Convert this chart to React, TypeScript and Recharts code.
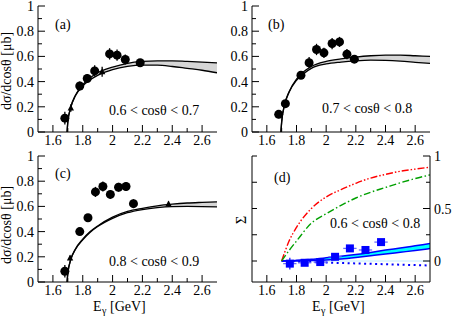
import React from 'react';
import { ComposedChart, Line, Area, Scatter, ErrorBar, XAxis, YAxis, ReferenceLine } from 'recharts';

const FONT = "'Liberation Serif', 'DejaVu Serif', 'Times New Roman', serif";

// axis ticks
const xTicks = [1.6, 1.7, 1.8, 1.9, 2, 2.1, 2.2, 2.3, 2.4, 2.5, 2.6];
const xLabels = [1.6, 1.8, 2, 2.2, 2.4, 2.6];
const yTicks = [0, 0.1, 0.2, 0.3, 0.4, 0.5, 0.6, 0.7, 0.8, 0.9, 1];
const yLabels = [0, 0.2, 0.4, 0.6, 0.8, 1];
const sigmaTicks = [0, 0.25, 0.5, 0.75, 1];
const sigmaLabels = [0, 0.5, 1];

// model curves (upper / lower edge of band)
const curveE = [1.695, 1.7, 1.72, 1.75, 1.8, 1.85, 1.9, 2, 2.1, 2.2, 2.3, 2.4, 2.5, 2.6, 2.7];
const aUpper = [0, 0.08, 0.2, 0.29, 0.375, 0.43, 0.47, 0.515, 0.545, 0.56, 0.565, 0.565, 0.56, 0.555, 0.549];
const aLower = [0, 0.08, 0.195, 0.285, 0.365, 0.415, 0.45, 0.495, 0.52, 0.53, 0.53, 0.52, 0.505, 0.49, 0.47];
const bUpper = [0, 0.08, 0.22, 0.32, 0.42, 0.48, 0.52, 0.56, 0.58, 0.595, 0.605, 0.61, 0.61, 0.605, 0.6];
const bLower = [0, 0.08, 0.215, 0.315, 0.41, 0.465, 0.505, 0.54, 0.555, 0.565, 0.57, 0.568, 0.562, 0.553, 0.544];
const cUpper = [0, 0.07, 0.18, 0.26, 0.34, 0.4, 0.445, 0.515, 0.56, 0.585, 0.605, 0.618, 0.627, 0.632, 0.636];
const cLower = [0, 0.07, 0.178, 0.257, 0.335, 0.395, 0.44, 0.505, 0.55, 0.575, 0.59, 0.598, 0.6, 0.599, 0.597];

// measured cross sections
const aE = [1.68, 1.78, 1.83, 1.88, 1.98, 2.03, 2.085, 2.185];
const aVal = [0.11, 0.365, 0.425, 0.485, 0.62, 0.61, 0.575, 0.55];
const aErr = [0.05, 0.035, 0.035, 0.045, 0.045, 0.045, 0.04, 0.03];
const aSmallE = [1.72, 1.93];
const aSmallVal = [0.19, 0.478];
const aSmallErr = [0.03, 0.04];

const bE = [1.68, 1.725, 1.83, 1.885, 1.935, 1.985, 2.04, 2.09, 2.14, 2.19];
const bVal = [0.14, 0.225, 0.45, 0.55, 0.655, 0.628, 0.702, 0.715, 0.618, 0.578];
const bErr = [0.03, 0.025, 0.03, 0.045, 0.045, 0.04, 0.045, 0.04, 0.04, 0.03];

const cE = [1.68, 1.78, 1.835, 1.885, 1.935, 1.985, 2.04, 2.09, 2.14];
const cVal = [0.085, 0.4, 0.51, 0.715, 0.758, 0.695, 0.752, 0.758, 0.622];
const cErr = [0.05, 0.025, 0.03, 0.04, 0.04, 0.035, 0.035, 0.035, 0.035];
const cSmallE = [1.715, 2.375];
const cSmallVal = [0.19, 0.62];
const cSmallErr = [0.02, 0.02];

// beam asymmetry panel
const sigmaE = [1.7, 1.75, 1.8, 1.9, 2, 2.1, 2.2, 2.3, 2.4, 2.5, 2.6, 2.7];
const sigmaRed = [0, 0.19, 0.32, 0.5, 0.61, 0.68, 0.74, 0.79, 0.825, 0.855, 0.875, 0.893];
const sigmaGreen = [0, 0.1, 0.19, 0.36, 0.45, 0.53, 0.6, 0.655, 0.7, 0.745, 0.785, 0.82];
const sigmaBandHi = [0, 0.002, 0.006, 0.016, 0.03, 0.045, 0.062, 0.082, 0.104, 0.124, 0.145, 0.166];
const sigmaBandLo = [0, 0, 0, 0.005, 0.01, 0.02, 0.034, 0.05, 0.066, 0.083, 0.1, 0.118];
const sigmaDotted = [0, -0.002, -0.004, -0.01, -0.015, -0.019, -0.023, -0.027, -0.031, -0.035, -0.039, -0.043];

const dE = [1.755, 1.855, 1.96, 2.06, 2.16, 2.265, 2.37];
const dVal = [-0.025, -0.017, -0.01, 0.04, 0.12, 0.105, 0.18];
const dErr = [0.055, 0.025, 0.02, 0.015, 0.02, 0.02, 0.02];
const dXErr = [0.045, 0.045, 0.045, 0.045, 0.045, 0.045, 0.045];

const band = (xs: number[], hi: number[], lo: number[]) => xs.map((x, i) => ({ x, hi: hi[i], lo: lo[i] }));
const points = (xs: number[], ys: number[], errs: number[], xerrs?: number[]) =>
  xs.map((x, i) => ({ x, y: ys[i], err: errs[i], xerr: xerrs ? xerrs[i] : 0 }));

const isIn = (v: number, list: number[]) => list.some((l) => Math.abs(l - v) < 1e-6);

const textStyle = { fontSize: 14, fontFamily: FONT, fill: '#000' };

const makeXTick = (side: 'bottom' | 'top', labels: boolean) => (p: any) => {
  const major = isIn(p.payload.value, xLabels);
  const len = major ? 7 : 4;
  const dir = side === 'bottom' ? -1 : 1;
  return (
    <g>
      <line x1={p.x} y1={p.y} x2={p.x} y2={p.y + dir * len} stroke="#000" strokeWidth={1} />
      {labels && major && (
        <text x={p.x} y={p.y + 13} textAnchor="middle" style={textStyle}>
          {String(p.payload.value)}
        </text>
      )}
    </g>
  );
};

const makeYTick = (side: 'left' | 'right', majors: number[], labels: boolean, minorLen = 4) => (p: any) => {
  const major = isIn(p.payload.value, majors);
  const len = major ? 7 : minorLen;
  const dir = side === 'left' ? 1 : -1;
  return (
    <g>
      <line x1={p.x} y1={p.y} x2={p.x + dir * len} y2={p.y} stroke="#000" strokeWidth={1} />
      {labels && major && (
        <text
          x={side === 'left' ? p.x - 4 : p.x + 4}
          y={p.y + 5}
          textAnchor={side === 'left' ? 'end' : 'start'}
          style={textStyle}
        >
          {String(p.payload.value)}
        </text>
      )}
    </g>
  );
};

const Dot = (p: any) => <circle cx={p.cx} cy={p.cy} r={4.5} fill="#000" />;
const Tri = (p: any) => (
  <polygon
    points={`${p.cx},${p.cy - 3.5} ${p.cx - 3.2},${p.cy + 2.5} ${p.cx + 3.2},${p.cy + 2.5}`}
    fill="#000"
  />
);
const Square = (p: any) => <rect x={p.cx - 4} y={p.cy - 4} width={8} height={8} fill="#0000ff" />;

const axisLine = { stroke: '#000', strokeWidth: 1 };

interface PanelProps {
  left: number;
  top: number;
  height: number;
  yWidth: number;
  rightMargin: number;
  xAxisH: number;
  curve: { x: number; hi: number; lo: number }[];
  big: { x: number; y: number; err: number }[];
  small?: { x: number; y: number; err: number }[];
}

const CrossPanel = ({ left, top, height, yWidth, rightMargin, xAxisH, curve, big, small }: PanelProps) => (
  <div style={{ position: 'absolute', left, top }}>
    <ComposedChart width={226} height={height} margin={{ top: 6, right: rightMargin, bottom: 0, left: 0 }}>
      <XAxis
        xAxisId={0}
        dataKey="x"
        type="number"
        domain={[1.5, 2.7]}
        allowDataOverflow
        ticks={xTicks}
        interval={0}
        height={xAxisH}
        tickSize={0}
        tickMargin={0}
        tickLine={false}
        axisLine={axisLine}
        tick={makeXTick('bottom', true)}
      />
      <XAxis
        xAxisId="top"
        orientation="top"
        dataKey="x"
        type="number"
        domain={[1.5, 2.7]}
        allowDataOverflow
        ticks={xTicks}
        interval={0}
        height={0}
        tickSize={0}
        tickMargin={0}
        tickLine={false}
        axisLine={axisLine}
        tick={makeXTick('top', false)}
      />
      <YAxis
        yAxisId={0}
        dataKey="y"
        type="number"
        domain={[0, 1]}
        allowDataOverflow
        ticks={yTicks}
        interval={0}
        width={yWidth}
        tickSize={0}
        tickMargin={0}
        tickLine={false}
        axisLine={axisLine}
        tick={makeYTick('left', yLabels, true)}
      />
      <YAxis
        yAxisId="right"
        orientation="right"
        type="number"
        domain={[0, 1]}
        allowDataOverflow
        ticks={yTicks}
        interval={0}
        width={0}
        tickSize={0}
        tickMargin={0}
        tickLine={false}
        axisLine={axisLine}
        tick={makeYTick('right', yLabels, false)}
      />
      <Area
        data={curve}
        dataKey={(d: any) => [d.lo, d.hi]}
        type="monotone"
        fill="#d6d6d6"
        fillOpacity={1}
        stroke="none"
        isAnimationActive={false}
      />
      <Line data={curve} dataKey="hi" type="monotone" stroke="#000" strokeWidth={1.3} dot={false} isAnimationActive={false} />
      <Line data={curve} dataKey="lo" type="monotone" stroke="#000" strokeWidth={1.3} dot={false} isAnimationActive={false} />
      {small && (
        <Scatter data={small} dataKey="y" shape={Tri} isAnimationActive={false}>
          <ErrorBar dataKey="err" direction="y" width={0} stroke="#000" strokeWidth={1.3} />
        </Scatter>
      )}
      <Scatter data={big} dataKey="y" shape={Dot} isAnimationActive={false}>
        <ErrorBar dataKey="err" direction="y" width={0} stroke="#000" strokeWidth={1.3} />
      </Scatter>
    </ComposedChart>
  </div>
);

const SigmaPanel = () => {
  const lines = sigmaE.map((x, i) => ({
    x,
    red: sigmaRed[i],
    green: sigmaGreen[i],
    hi: sigmaBandHi[i],
    lo: sigmaBandLo[i],
    dot: sigmaDotted[i],
  }));
  const data = points(dE, dVal, dErr, dXErr);
  return (
    <div style={{ position: 'absolute', left: 226, top: 150 }}>
      <ComposedChart width={226} height={168} margin={{ top: 6, right: 0, bottom: 0, left: 0 }}>
        <XAxis
          xAxisId={0}
          dataKey="x"
          type="number"
          domain={[1.5, 2.7]}
          allowDataOverflow
          ticks={xTicks}
          interval={0}
          height={36}
          tickSize={0}
          tickMargin={0}
          tickLine={false}
          axisLine={axisLine}
          tick={makeXTick('bottom', true)}
        />
        <XAxis
          xAxisId="top"
          orientation="top"
          dataKey="x"
          type="number"
          domain={[1.5, 2.7]}
          allowDataOverflow
          ticks={xTicks}
          interval={0}
          height={0}
          tickSize={0}
          tickMargin={0}
          tickLine={false}
          axisLine={axisLine}
          tick={makeXTick('top', false)}
        />
        <YAxis
          yAxisId={0}
          dataKey="y"
          type="number"
          domain={[-0.2, 1]}
          allowDataOverflow
          ticks={sigmaTicks}
          interval={0}
          width={26}
          tickSize={0}
          tickMargin={0}
          tickLine={false}
          axisLine={axisLine}
          tick={makeYTick('left', [], false, 5)}
        />
        <YAxis
          yAxisId="right"
          orientation="right"
          type="number"
          domain={[-0.2, 1]}
          allowDataOverflow
          ticks={sigmaTicks}
          interval={0}
          width={22}
          tickSize={0}
          tickMargin={0}
          tickLine={false}
          axisLine={axisLine}
          tick={makeYTick('right', sigmaLabels, true)}
        />
        <ReferenceLine
          segment={[
            { x: 1.7, y: 0 },
            { x: 2.7, y: 0 },
          ]}
          stroke="#bfeaff"
          strokeWidth={1}
        />
        <Area
          data={lines}
          dataKey={(d: any) => [d.lo, d.hi]}
          type="monotone"
          fill="#00ffff"
          fillOpacity={1}
          stroke="none"
          isAnimationActive={false}
        />
        <Line data={lines} dataKey="hi" type="monotone" stroke="#0000ff" strokeWidth={1.5} dot={false} isAnimationActive={false} />
        <Line data={lines} dataKey="lo" type="monotone" stroke="#0000ff" strokeWidth={1.5} dot={false} isAnimationActive={false} />
        <Line
          data={lines}
          dataKey="dot"
          type="monotone"
          stroke="#0000ff"
          strokeWidth={2}
          strokeDasharray="2 3.5"
          dot={false}
          isAnimationActive={false}
        />
        <Line
          data={lines}
          dataKey="red"
          type="monotone"
          stroke="#ff0000"
          strokeWidth={1.4}
          strokeDasharray="7 2 1.5 2 1.5 2"
          dot={false}
          isAnimationActive={false}
        />
        <Line
          data={lines}
          dataKey="green"
          type="monotone"
          stroke="#00a000"
          strokeWidth={1.4}
          strokeDasharray="7 2.5 1.5 2.5"
          dot={false}
          isAnimationActive={false}
        />
        <Scatter data={data} dataKey="y" shape={Square} isAnimationActive={false}>
          <ErrorBar dataKey="err" direction="y" width={0} stroke="#2020ff" strokeWidth={1.3} />
          <ErrorBar dataKey="xerr" direction="x" width={0} stroke="#6a6aff" strokeWidth={1.3} />
        </Scatter>
      </ComposedChart>
    </div>
  );
};

// E_gamma axis title, built from separate pieces so the subscript sits beside the E
const Egamma = ({ x }: { x: number }) => (
  <g>
    <text x={x - 28} y={311} style={textStyle}>E</text>
    <text x={x - 19} y={314} style={{ ...textStyle, fontSize: 10 }}>γ</text>
    <text x={x - 11} y={311} style={textStyle}>[GeV]</text>
  </g>
);

const Overlay = () => (
  <svg width={452} height={318} style={{ position: 'absolute', left: 0, top: 0, pointerEvents: 'none' }}>
    <text x={55} y={29} style={textStyle}>(a)</text>
    <text x={268} y={29} style={textStyle}>(b)</text>
    <text x={55} y={178} style={textStyle}>(c)</text>
    <text x={274} y={182} style={textStyle}>(d)</text>
    <text x={109} y={115} style={textStyle}>0.6 &lt; cosθ &lt; 0.7</text>
    <text x={322} y={113} style={textStyle}>0.7 &lt; cosθ &lt; 0.8</text>
    <text x={109} y={266} style={textStyle}>0.8 &lt; cosθ &lt; 0.9</text>
    <text x={330} y={228} style={textStyle}>0.6 &lt; cosθ &lt; 0.8</text>
    <text transform="translate(11,71) rotate(-90)" textAnchor="middle" style={textStyle}>dσ/dcosθ [μb]</text>
    <text transform="translate(11,225) rotate(-90)" textAnchor="middle" style={textStyle}>dσ/dcosθ [μb]</text>
    <text transform="translate(246,220) rotate(-90)" textAnchor="middle" style={textStyle}>Σ</text>
    <Egamma x={121} />
    <Egamma x={340} />
  </svg>
);

const App = () => (
  <div style={{ position: 'absolute', left: 0, top: 0, width: 452, height: 318, background: '#fff' }}>
    <CrossPanel
      left={0}
      top={0}
      height={150}
      yWidth={38}
      rightMargin={9}
      xAxisH={18}
      curve={band(curveE, aUpper, aLower)}
      big={points(aE, aVal, aErr)}
      small={points(aSmallE, aSmallVal, aSmallErr)}
    />
    <CrossPanel
      left={226}
      top={0}
      height={150}
      yWidth={26}
      rightMargin={22}
      xAxisH={18}
      curve={band(curveE, bUpper, bLower)}
      big={points(bE, bVal, bErr)}
    />
    <CrossPanel
      left={0}
      top={150}
      height={168}
      yWidth={38}
      rightMargin={9}
      xAxisH={36}
      curve={band(curveE, cUpper, cLower)}
      big={points(cE, cVal, cErr)}
      small={points(cSmallE, cSmallVal, cSmallErr)}
    />
    <SigmaPanel />
    <Overlay />
  </div>
);

export default App;
